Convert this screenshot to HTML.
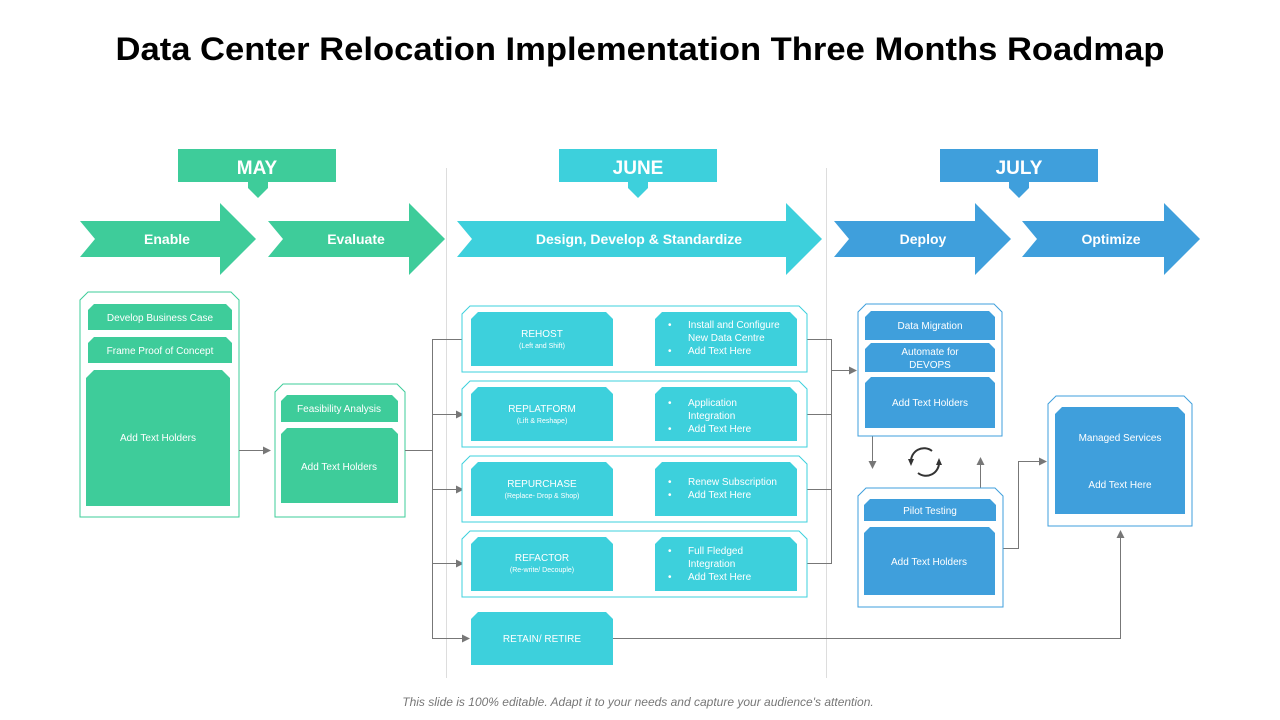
<!DOCTYPE html>
<html><head><meta charset="utf-8"><style>
html,body{margin:0;padding:0;background:#fff;width:1280px;height:720px;overflow:hidden}
svg{display:block}
.t{font-family:"Liberation Sans",sans-serif;fill:#fff;font-size:10px;text-anchor:middle}
.s{font-size:7px}
.h{font-family:"Liberation Sans Narrow","Liberation Sans",sans-serif;font-weight:bold;fill:#fff;text-anchor:middle}
.l{font-family:"Liberation Sans",sans-serif;fill:#fff;font-size:10px}
</style></head><body>
<svg width="1280" height="720" viewBox="0 0 1280 720">
<defs><marker id="a" markerWidth="8" markerHeight="8" refX="7" refY="4" orient="auto" markerUnits="userSpaceOnUse"><path d="M0,0 L8,4 L0,8 z" fill="#777"/></marker></defs>
<text x="640" y="60" font-family="Liberation Sans,sans-serif" font-weight="bold" font-size="32" text-anchor="middle" textLength="1049" lengthAdjust="spacingAndGlyphs" fill="#000">Data Center Relocation Implementation Three Months Roadmap</text>

<!-- dividers -->
<line x1="446.5" y1="168" x2="446.5" y2="678" stroke="#ddd"/>
<line x1="826.5" y1="168" x2="826.5" y2="678" stroke="#ddd"/>

<!-- month labels -->
<rect x="178" y="149" width="158" height="33" fill="#3ecc9a"/>
<polygon points="248,182 268,182 268,188 258,198 248,188" fill="#3ecc9a"/>
<text class="h" x="257" y="174" font-size="19">MAY</text>
<rect x="559" y="149" width="158" height="33" fill="#3dd0dc"/>
<polygon points="628,182 648,182 648,188 638,198 628,188" fill="#3dd0dc"/>
<text class="h" x="638" y="174" font-size="19">JUNE</text>
<rect x="940" y="149" width="158" height="33" fill="#3f9fdc"/>
<polygon points="1009,182 1029,182 1029,188 1019,198 1009,188" fill="#3f9fdc"/>
<text class="h" x="1019" y="174" font-size="19">JULY</text>

<!-- big arrows -->
<polygon points="80,221 220,221 220,203 256,239 220,275 220,257 80,257 95,239" fill="#3ecc9a"/>
<text class="h" x="167" y="244" font-size="14">Enable</text>
<polygon points="268,221 409,221 409,203 445,239 409,275 409,257 268,257 283,239" fill="#3ecc9a"/>
<text class="h" x="356" y="244" font-size="14">Evaluate</text>
<polygon points="457,221 786,221 786,203 822,239 786,275 786,257 457,257 472,239" fill="#3dd0dc"/>
<text class="h" x="639" y="244" font-size="14">Design, Develop &amp; Standardize</text>
<polygon points="834,221 975,221 975,203 1011,239 975,275 975,257 834,257 849,239" fill="#3f9fdc"/>
<text class="h" x="923" y="244" font-size="14">Deploy</text>
<polygon points="1022,221 1164,221 1164,203 1200,239 1164,275 1164,257 1022,257 1037,239" fill="#3f9fdc"/>
<text class="h" x="1111" y="244" font-size="14">Optimize</text>

<!-- Enable card -->
<polygon points="88,292 231,292 239,300 239,517 80,517 80,300" fill="#fff" stroke="#3ecc9a"/>
<polygon points="94,304 226,304 232,310 232,330 88,330 88,310" fill="#3ecc9a"/>
<text class="t" x="160" y="321">Develop Business Case</text>
<polygon points="94,337 226,337 232,343 232,363 88,363 88,343" fill="#3ecc9a"/>
<text class="t" x="160" y="354">Frame Proof of Concept</text>
<polygon points="94,370 222,370 230,378 230,506 86,506 86,378" fill="#3ecc9a"/>
<text class="t" x="158" y="441">Add Text Holders</text>
<line x1="239" y1="450.5" x2="270" y2="450.5" stroke="#777" marker-end="url(#a)"/>

<!-- Feasibility card -->
<polygon points="283,384 397,384 405,392 405,517 275,517 275,392" fill="#fff" stroke="#3ecc9a"/>
<polygon points="287,395 392,395 398,401 398,422 281,422 281,401" fill="#3ecc9a"/>
<text class="t" x="339" y="412">Feasibility Analysis</text>
<polygon points="287,428 392,428 398,434 398,503 281,503 281,434" fill="#3ecc9a"/>
<text class="t" x="339" y="470">Add Text Holders</text>

<!-- left connectors -->
<g stroke="#777" fill="none">
<polyline points="405,450.5 432.5,450.5"/>
<polyline points="462,339.5 432.5,339.5 432.5,638.5 469,638.5" marker-end="url(#a)"/>
<line x1="432" y1="414.5" x2="463" y2="414.5" marker-end="url(#a)"/>
<line x1="432" y1="489.5" x2="463" y2="489.5" marker-end="url(#a)"/>
<line x1="432" y1="563.5" x2="463" y2="563.5" marker-end="url(#a)"/>
<!-- right connectors -->
<polyline points="807,339.5 831.5,339.5 831.5,563.5 807,563.5"/>
<line x1="807" y1="414.5" x2="831" y2="414.5"/>
<line x1="807" y1="489.5" x2="831" y2="489.5"/>
<line x1="831" y1="370.5" x2="856" y2="370.5" marker-end="url(#a)"/>
<polyline points="613,638.5 1120.5,638.5 1120.5,531" marker-end="url(#a)"/>
<line x1="872.5" y1="436" x2="872.5" y2="468" marker-end="url(#a)"/>
<line x1="980.5" y1="488" x2="980.5" y2="458" marker-end="url(#a)"/>
<polyline points="1003,548.5 1018.5,548.5 1018.5,461.5 1046,461.5" marker-end="url(#a)"/>
</g>

<!-- June rows -->
<g>
<polygon points="470,306 799,306 807,314 807,372 462,372 462,314" fill="#fff" stroke="#3dd0dc"/>
<polygon points="478,312 606,312 613,319 613,366 471,366 471,319" fill="#3dd0dc"/>
<polygon points="662,312 790,312 797,319 797,366 655,366 655,319" fill="#3dd0dc"/>
<text class="t" x="542" y="337">REHOST</text><text class="t s" x="542" y="348">(Left and Shift)</text>
<text class="l" x="668" y="328">•</text><text class="l" x="688" y="328">Install and Configure</text>
<text class="l" x="688" y="341">New Data Centre</text>
<text class="l" x="668" y="354">•</text><text class="l" x="688" y="354">Add Text Here</text>

<polygon points="470,381 799,381 807,389 807,447 462,447 462,389" fill="#fff" stroke="#3dd0dc"/>
<polygon points="478,387 606,387 613,394 613,441 471,441 471,394" fill="#3dd0dc"/>
<polygon points="662,387 790,387 797,394 797,441 655,441 655,394" fill="#3dd0dc"/>
<text class="t" x="542" y="412">REPLATFORM</text><text class="t s" x="542" y="423">(Lift &amp; Reshape)</text>
<text class="l" x="668" y="406">•</text><text class="l" x="688" y="406">Application</text>
<text class="l" x="688" y="419">Integration</text>
<text class="l" x="668" y="432">•</text><text class="l" x="688" y="432">Add Text Here</text>

<polygon points="470,456 799,456 807,464 807,522 462,522 462,464" fill="#fff" stroke="#3dd0dc"/>
<polygon points="478,462 606,462 613,469 613,516 471,516 471,469" fill="#3dd0dc"/>
<polygon points="662,462 790,462 797,469 797,516 655,516 655,469" fill="#3dd0dc"/>
<text class="t" x="542" y="487">REPURCHASE</text><text class="t s" x="542" y="498">(Replace- Drop &amp; Shop)</text>
<text class="l" x="668" y="485">•</text><text class="l" x="688" y="485">Renew Subscription</text>
<text class="l" x="668" y="498">•</text><text class="l" x="688" y="498">Add Text Here</text>

<polygon points="470,531 799,531 807,539 807,597 462,597 462,539" fill="#fff" stroke="#3dd0dc"/>
<polygon points="478,537 606,537 613,544 613,591 471,591 471,544" fill="#3dd0dc"/>
<polygon points="662,537 790,537 797,544 797,591 655,591 655,544" fill="#3dd0dc"/>
<text class="t" x="542" y="561">REFACTOR</text><text class="t s" x="542" y="572">(Re-write/ Decouple)</text>
<text class="l" x="668" y="554">•</text><text class="l" x="688" y="554">Full Fledged</text>
<text class="l" x="688" y="567">Integration</text>
<text class="l" x="668" y="580">•</text><text class="l" x="688" y="580">Add Text Here</text>

<polygon points="478,612 606,612 613,619 613,665 471,665 471,619" fill="#3dd0dc"/>
<text class="t" x="542" y="642">RETAIN/ RETIRE</text>
</g>

<!-- Deploy card -->
<polygon points="866,304 994,304 1002,312 1002,436 858,436 858,312" fill="#fff" stroke="#3f9fdc"/>
<polygon points="871,311 989,311 995,317 995,340 865,340 865,317" fill="#3f9fdc"/>
<text class="t" x="930" y="329">Data Migration</text>
<polygon points="871,343 989,343 995,349 995,372 865,372 865,349" fill="#3f9fdc"/>
<text class="t" x="930" y="355">Automate for</text><text class="t" x="930" y="368">DEVOPS</text>
<polygon points="871,377 989,377 995,383 995,428 865,428 865,383" fill="#3f9fdc"/>
<text class="t" x="930" y="406">Add Text Holders</text>

<!-- cycle icon -->
<g stroke="#333" stroke-width="2" fill="none">
<path d="M911,462 A13,13 0 0,1 932,451"/>
<path d="M939,462 A13,13 0 0,1 918,473"/>
</g>
<polygon points="908,459 914,459 911,466" fill="#333"/>
<polygon points="936,465 942,465 939,458" fill="#333"/>

<!-- Pilot card -->
<polygon points="866,488 995,488 1003,496 1003,607 858,607 858,496" fill="#fff" stroke="#3f9fdc"/>
<polygon points="870,499 990,499 996,505 996,521 864,521 864,505" fill="#3f9fdc"/>
<text class="t" x="930" y="514">Pilot Testing</text>
<polygon points="870,527 989,527 995,533 995,595 864,595 864,533" fill="#3f9fdc"/>
<text class="t" x="929" y="565">Add Text Holders</text>

<!-- Managed -->
<polygon points="1056,396 1184,396 1192,404 1192,526 1048,526 1048,404" fill="#fff" stroke="#3f9fdc"/>
<polygon points="1062,407 1178,407 1185,414 1185,514 1055,514 1055,414" fill="#3f9fdc"/>
<text class="t" x="1120" y="441">Managed Services</text>
<text class="t" x="1120" y="488">Add Text Here</text>

<text x="638" y="706" font-family="Liberation Sans,sans-serif" font-style="italic" font-size="12" fill="#777" text-anchor="middle">This slide is 100% editable. Adapt it to your needs and capture your audience's attention.</text>
</svg>
</body></html>
